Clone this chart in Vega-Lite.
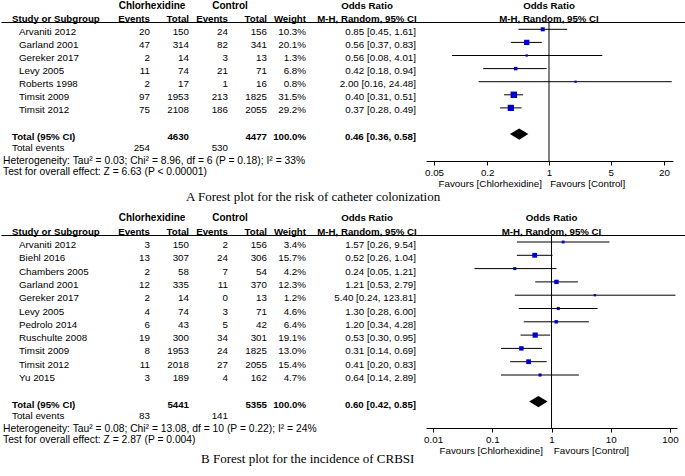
{
  "$schema": "https://vega.github.io/schema/vega-lite/v6.json",
  "padding": 0,
  "background": "white",
  "spacing": 7,
  "config": {
    "view": {"stroke": "black", "strokeWidth": 1, "strokeDash": [685, 3000]},
    "text": {"font": "Liberation Sans", "fontSize": 9.8, "color": "black", "baseline": "middle"},
    "axis": {"labelFont": "Liberation Sans", "titleFont": "Liberation Sans"}
  },
  "datasets": {
    "aRows": [
      {"kind": "study", "study": "Arvaniti 2012", "ev1": 20, "tot1": 150, "ev2": 24, "tot2": 156, "w": 0.103, "or": 0.85, "lo": 0.45, "hi": 1.61},
      {"kind": "study", "study": "Garland 2001", "ev1": 47, "tot1": 314, "ev2": 82, "tot2": 341, "w": 0.201, "or": 0.56, "lo": 0.37, "hi": 0.83},
      {"kind": "study", "study": "Gereker 2017", "ev1": 2, "tot1": 14, "ev2": 3, "tot2": 13, "w": 0.013, "or": 0.56, "lo": 0.08, "hi": 4.01},
      {"kind": "study", "study": "Levy 2005", "ev1": 11, "tot1": 74, "ev2": 21, "tot2": 71, "w": 0.068, "or": 0.42, "lo": 0.18, "hi": 0.94},
      {"kind": "study", "study": "Roberts 1998", "ev1": 2, "tot1": 17, "ev2": 1, "tot2": 16, "w": 0.008, "or": 2.00, "lo": 0.16, "hi": 24.48},
      {"kind": "study", "study": "Timsit 2009", "ev1": 97, "tot1": 1953, "ev2": 213, "tot2": 1825, "w": 0.315, "or": 0.40, "lo": 0.31, "hi": 0.51},
      {"kind": "study", "study": "Timsit 2012", "ev1": 75, "tot1": 2108, "ev2": 186, "tot2": 2055, "w": 0.292, "or": 0.37, "lo": 0.28, "hi": 0.49},
      {"kind": "total", "study": "Total (95% CI)", "tot1": 4630, "tot2": 4477, "w": 1.0, "or": 0.46, "lo": 0.36, "hi": 0.58},
      {"kind": "events", "study": "Total events", "ev1": 254, "ev2": 530}
    ],
    "bRows": [
      {"kind": "study", "study": "Arvaniti 2012", "ev1": 3, "tot1": 150, "ev2": 2, "tot2": 156, "w": 0.034, "or": 1.57, "lo": 0.26, "hi": 9.54},
      {"kind": "study", "study": "Biehl 2016", "ev1": 13, "tot1": 307, "ev2": 24, "tot2": 306, "w": 0.157, "or": 0.52, "lo": 0.26, "hi": 1.04},
      {"kind": "study", "study": "Chambers 2005", "ev1": 2, "tot1": 58, "ev2": 7, "tot2": 54, "w": 0.042, "or": 0.24, "lo": 0.05, "hi": 1.21},
      {"kind": "study", "study": "Garland 2001", "ev1": 12, "tot1": 335, "ev2": 11, "tot2": 370, "w": 0.123, "or": 1.21, "lo": 0.53, "hi": 2.79},
      {"kind": "study", "study": "Gereker 2017", "ev1": 2, "tot1": 14, "ev2": 0, "tot2": 13, "w": 0.012, "or": 5.40, "lo": 0.24, "hi": 123.81},
      {"kind": "study", "study": "Levy 2005", "ev1": 4, "tot1": 74, "ev2": 3, "tot2": 71, "w": 0.046, "or": 1.30, "lo": 0.28, "hi": 6.00},
      {"kind": "study", "study": "Pedrolo 2014", "ev1": 6, "tot1": 43, "ev2": 5, "tot2": 42, "w": 0.064, "or": 1.20, "lo": 0.34, "hi": 4.28},
      {"kind": "study", "study": "Ruschulte 2008", "ev1": 19, "tot1": 300, "ev2": 34, "tot2": 301, "w": 0.191, "or": 0.53, "lo": 0.30, "hi": 0.95},
      {"kind": "study", "study": "Timsit 2009", "ev1": 8, "tot1": 1953, "ev2": 24, "tot2": 1825, "w": 0.130, "or": 0.31, "lo": 0.14, "hi": 0.69},
      {"kind": "study", "study": "Timsit 2012", "ev1": 11, "tot1": 2018, "ev2": 27, "tot2": 2055, "w": 0.154, "or": 0.41, "lo": 0.20, "hi": 0.83},
      {"kind": "study", "study": "Yu 2015", "ev1": 3, "tot1": 189, "ev2": 4, "tot2": 162, "w": 0.047, "or": 0.64, "lo": 0.14, "hi": 2.89},
      {"kind": "total", "study": "Total (95% CI)", "tot1": 5441, "tot2": 5355, "w": 1.0, "or": 0.60, "lo": 0.42, "hi": 0.85},
      {"kind": "events", "study": "Total events", "ev1": 83, "ev2": 141}
    ],
    "hdrStudy": [{"study": "h2", "text": "Study or Subgroup"}],
    "hdrNum": [
      {"study": "h2", "key": "ev1", "text": "Events"},
      {"study": "h2", "key": "tot1", "text": "Total"},
      {"study": "h2", "key": "ev2", "text": "Events"},
      {"study": "h2", "key": "tot2", "text": "Total"},
      {"study": "h2", "key": "wtxt", "text": "Weight"}
    ],
    "hdrGroup": [
      {"study": "h1", "key": "ev1", "text": "Chlorhexidine"},
      {"study": "h1", "key": "ev2", "text": "Control"}
    ],
    "hdrCI": [
      {"study": "h1", "text": "Odds Ratio"},
      {"study": "h2", "text": "M-H, Random, 95% CI"}
    ],
    "aFoot": [{"study": "foot", "text": "Heterogeneity: Tau² = 0.03; Chi² = 8.96, df = 6 (P = 0.18); I² = 33%\nTest for overall effect: Z = 6.63 (P < 0.00001)"}],
    "bFoot": [{"study": "foot", "text": "Heterogeneity: Tau² = 0.08; Chi² = 13.08, df = 10 (P = 0.22); I² = 24%\nTest for overall effect: Z = 2.87 (P = 0.004)"}]
  },
  "vconcat": [
    {
      "width": 685,
      "height": 139,
      "title": {"text": "A Forest plot for the risk of catheter colonization", "orient": "bottom", "anchor": "start", "dx": 185, "offset": 2, "font": "Liberation Serif", "fontSize": 13, "fontWeight": "normal", "color": "black"},
      "resolve": {"scale": {"x": "independent", "y": "independent", "size": "independent"}},
      "layer": [
        {"data": {"name": "aRows"}, "transform": [{"filter": "datum.kind == 'study'"}],
         "mark": {"type": "text", "align": "left"},
         "encoding": {
           "x": {"datum": "name", "type": "nominal", "scale": {"type": "point", "domain": ["name"], "range": [18, 18], "padding": 0}, "axis": null},
           "y": {"field": "study", "type": "nominal", "scale": {"type": "point", "domain": ["h1","h2","Arvaniti 2012","Garland 2001","Gereker 2017","Levy 2005","Roberts 1998","Timsit 2009","Timsit 2012","gap","Total (95% CI)","Total events","foot"], "range": [-16.4, 140.8], "padding": 0}, "axis": null},
           "text": {"field": "study", "type": "nominal"}}},
        {"data": {"name": "aRows"}, "transform": [{"filter": "datum.kind == 'total'"}],
         "mark": {"type": "text", "align": "left", "fontWeight": "bold", "fontSize": 9.7},
         "encoding": {
           "x": {"datum": "label", "type": "nominal", "scale": {"type": "point", "domain": ["label"], "range": [11, 11], "padding": 0}, "axis": null},
           "y": {"field": "study", "type": "nominal", "scale": {"type": "point", "domain": ["h1","h2","Arvaniti 2012","Garland 2001","Gereker 2017","Levy 2005","Roberts 1998","Timsit 2009","Timsit 2012","gap","Total (95% CI)","Total events","foot"], "range": [-16.4, 140.8], "padding": 0}, "axis": null},
           "text": {"field": "study", "type": "nominal"}}},
        {"data": {"name": "aRows"}, "transform": [{"filter": "datum.kind == 'events'"}],
         "mark": {"type": "text", "align": "left"},
         "encoding": {
           "x": {"datum": "label", "type": "nominal", "scale": {"type": "point", "domain": ["label"], "range": [11, 11], "padding": 0}, "axis": null},
           "y": {"field": "study", "type": "nominal", "scale": {"type": "point", "domain": ["h1","h2","Arvaniti 2012","Garland 2001","Gereker 2017","Levy 2005","Roberts 1998","Timsit 2009","Timsit 2012","gap","Total (95% CI)","Total events","foot"], "range": [-18.4, 138.8], "padding": 0}, "axis": null},
           "text": {"field": "study", "type": "nominal"}}},
        {"data": {"name": "aRows"}, "transform": [{"filter": "datum.kind == 'study'"}, {"calculate": "format(datum.w, '.1%')", "as": "wtxt"}, {"fold": ["ev1", "tot1", "ev2", "tot2", "wtxt"]}],
         "mark": {"type": "text", "align": "right"},
         "encoding": {
           "x": {"field": "key", "type": "nominal", "scale": {"type": "point", "domain": ["ev1", "tot1", "ev2", "tot2", "wtxt"], "range": [149, 305], "padding": 0}, "axis": null},
           "y": {"field": "study", "type": "nominal", "scale": {"type": "point", "domain": ["h1","h2","Arvaniti 2012","Garland 2001","Gereker 2017","Levy 2005","Roberts 1998","Timsit 2009","Timsit 2012","gap","Total (95% CI)","Total events","foot"], "range": [-16.4, 140.8], "padding": 0}, "axis": null},
           "text": {"field": "value", "type": "nominal"}}},
        {"data": {"name": "aRows"}, "transform": [{"filter": "datum.kind == 'events'"}, {"fold": ["ev1", "ev2"]}],
         "mark": {"type": "text", "align": "right"},
         "encoding": {
           "x": {"field": "key", "type": "nominal", "scale": {"type": "point", "domain": ["ev1", "tot1", "ev2", "tot2", "wtxt"], "range": [149, 305], "padding": 0}, "axis": null},
           "y": {"field": "study", "type": "nominal", "scale": {"type": "point", "domain": ["h1","h2","Arvaniti 2012","Garland 2001","Gereker 2017","Levy 2005","Roberts 1998","Timsit 2009","Timsit 2012","gap","Total (95% CI)","Total events","foot"], "range": [-18.4, 138.8], "padding": 0}, "axis": null},
           "text": {"field": "value", "type": "nominal"}}},
        {"data": {"name": "aRows"}, "transform": [{"filter": "datum.kind == 'total'"}, {"calculate": "format(datum.w, '.1%')", "as": "wtxt"}, {"fold": ["tot1", "tot2", "wtxt"]}],
         "mark": {"type": "text", "align": "right", "fontWeight": "bold", "fontSize": 9.7},
         "encoding": {
           "x": {"field": "key", "type": "nominal", "scale": {"type": "point", "domain": ["ev1", "tot1", "ev2", "tot2", "wtxt"], "range": [149, 305], "padding": 0}, "axis": null},
           "y": {"field": "study", "type": "nominal", "scale": {"type": "point", "domain": ["h1","h2","Arvaniti 2012","Garland 2001","Gereker 2017","Levy 2005","Roberts 1998","Timsit 2009","Timsit 2012","gap","Total (95% CI)","Total events","foot"], "range": [-16.4, 140.8], "padding": 0}, "axis": null},
           "text": {"field": "value", "type": "nominal"}}},
        {"data": {"name": "aRows"}, "transform": [{"filter": "datum.kind == 'study'"}, {"calculate": "format(datum.or, '.2f') + ' [' + format(datum.lo, '.2f') + ', ' + format(datum.hi, '.2f') + ']'", "as": "ci"}],
         "mark": {"type": "text", "align": "right"},
         "encoding": {
           "x": {"datum": "ci", "type": "nominal", "scale": {"type": "point", "domain": ["ci"], "range": [415, 415], "padding": 0}, "axis": null},
           "y": {"field": "study", "type": "nominal", "scale": {"type": "point", "domain": ["h1","h2","Arvaniti 2012","Garland 2001","Gereker 2017","Levy 2005","Roberts 1998","Timsit 2009","Timsit 2012","gap","Total (95% CI)","Total events","foot"], "range": [-16.4, 140.8], "padding": 0}, "axis": null},
           "text": {"field": "ci", "type": "nominal"}}},
        {"data": {"name": "aRows"}, "transform": [{"filter": "datum.kind == 'total'"}, {"calculate": "format(datum.or, '.2f') + ' [' + format(datum.lo, '.2f') + ', ' + format(datum.hi, '.2f') + ']'", "as": "ci"}],
         "mark": {"type": "text", "align": "right", "fontWeight": "bold", "fontSize": 9.7},
         "encoding": {
           "x": {"datum": "ci", "type": "nominal", "scale": {"type": "point", "domain": ["ci"], "range": [415, 415], "padding": 0}, "axis": null},
           "y": {"field": "study", "type": "nominal", "scale": {"type": "point", "domain": ["h1","h2","Arvaniti 2012","Garland 2001","Gereker 2017","Levy 2005","Roberts 1998","Timsit 2009","Timsit 2012","gap","Total (95% CI)","Total events","foot"], "range": [-16.4, 140.8], "padding": 0}, "axis": null},
           "text": {"field": "ci", "type": "nominal"}}},
        {"data": {"name": "hdrStudy"},
         "mark": {"type": "text", "align": "left", "fontWeight": "bold", "fontSize": 9.7},
         "encoding": {
           "x": {"datum": "label", "type": "nominal", "scale": {"type": "point", "domain": ["label"], "range": [11, 11], "padding": 0}, "axis": null},
           "y": {"field": "study", "type": "nominal", "scale": {"type": "point", "domain": ["h1","h2","Arvaniti 2012","Garland 2001","Gereker 2017","Levy 2005","Roberts 1998","Timsit 2009","Timsit 2012","gap","Total (95% CI)","Total events","foot"], "range": [-16.4, 140.8], "padding": 0}, "axis": null},
           "text": {"field": "text", "type": "nominal"}}},
        {"data": {"name": "hdrNum"},
         "mark": {"type": "text", "align": "right", "fontWeight": "bold", "fontSize": 9.7},
         "encoding": {
           "x": {"field": "key", "type": "nominal", "scale": {"type": "point", "domain": ["ev1", "tot1", "ev2", "tot2", "wtxt"], "range": [149, 305], "padding": 0}, "axis": null},
           "y": {"field": "study", "type": "nominal", "scale": {"type": "point", "domain": ["h1","h2","Arvaniti 2012","Garland 2001","Gereker 2017","Levy 2005","Roberts 1998","Timsit 2009","Timsit 2012","gap","Total (95% CI)","Total events","foot"], "range": [-16.4, 140.8], "padding": 0}, "axis": null},
           "text": {"field": "text", "type": "nominal"}}},
        {"data": {"name": "hdrGroup"},
         "mark": {"type": "text", "align": "center", "fontWeight": "bold", "fontSize": 10},
         "encoding": {
           "x": {"field": "key", "type": "nominal", "scale": {"type": "point", "domain": ["ev1", "tot1", "ev2", "tot2", "wtxt"], "range": [151, 307], "padding": 0}, "axis": null},
           "y": {"field": "study", "type": "nominal", "scale": {"type": "point", "domain": ["h1","h2","Arvaniti 2012","Garland 2001","Gereker 2017","Levy 2005","Roberts 1998","Timsit 2009","Timsit 2012","gap","Total (95% CI)","Total events","foot"], "range": [-16.4, 140.8], "padding": 0}, "axis": null},
           "text": {"field": "text", "type": "nominal"}}},
        {"data": {"name": "hdrCI"},
         "mark": {"type": "text", "align": "center", "fontWeight": "bold", "fontSize": 9.7},
         "encoding": {
           "x": {"datum": "ci", "type": "nominal", "scale": {"type": "point", "domain": ["ci"], "range": [366, 366], "padding": 0}, "axis": null},
           "y": {"field": "study", "type": "nominal", "scale": {"type": "point", "domain": ["h1","h2","Arvaniti 2012","Garland 2001","Gereker 2017","Levy 2005","Roberts 1998","Timsit 2009","Timsit 2012","gap","Total (95% CI)","Total events","foot"], "range": [-16.4, 140.8], "padding": 0}, "axis": null},
           "text": {"field": "text", "type": "nominal"}}},
        {"data": {"name": "aFoot"},
         "mark": {"type": "text", "align": "left", "lineBreak": "\n", "lineHeight": 11, "fontSize": 10.3},
         "encoding": {
           "x": {"datum": "foot", "type": "nominal", "scale": {"type": "point", "domain": ["foot"], "range": [2, 2], "padding": 0}, "axis": null},
           "y": {"field": "study", "type": "nominal", "scale": {"type": "point", "domain": ["h1","h2","Arvaniti 2012","Garland 2001","Gereker 2017","Levy 2005","Roberts 1998","Timsit 2009","Timsit 2012","gap","Total (95% CI)","Total events","foot"], "range": [-18.4, 138.8], "padding": 0}, "axis": null},
           "text": {"field": "text", "type": "nominal"}}},
        {"data": {"values": [{}]},
         "mark": {"type": "rule", "color": "black", "strokeWidth": 1},
         "encoding": {
           "x": {"datum": 1, "type": "quantitative", "scale": {"type": "log", "domain": [0.0406, 25.3], "range": [425, 672], "nice": false},
                 "axis": {"orient": "bottom", "values": [0.05, 0.2, 1, 5, 20], "format": "~g", "tickSize": 4, "tickColor": "black", "domainColor": "black", "labelColor": "black", "labelFontSize": 9.8, "labelPadding": 2, "labelFlush": false, "labelOverlap": false, "grid": false,
                          "title": "Favours [Chlorhexidine]\u00a0\u00a0\u00a0Favours [Control]", "titleFontSize": 9.8, "titleFontWeight": "normal", "titleColor": "black", "titleAlign": "left", "titleX": 437, "titlePadding": 2}}}},
        {"data": {"name": "aRows"}, "transform": [{"filter": "datum.kind == 'study'"}],
         "mark": {"type": "rule", "color": "black", "strokeWidth": 1},
         "encoding": {
           "x": {"field": "lo", "type": "quantitative", "scale": {"type": "log", "domain": [0.0406, 25.3], "range": [425, 672], "nice": false}, "axis": null},
           "x2": {"field": "hi"},
           "y": {"field": "study", "type": "nominal", "scale": {"type": "point", "domain": ["h1","h2","Arvaniti 2012","Garland 2001","Gereker 2017","Levy 2005","Roberts 1998","Timsit 2009","Timsit 2012","gap","Total (95% CI)","Total events","foot"], "range": [-18.9, 138.3], "padding": 0}, "axis": null}}},
        {"data": {"name": "aRows"}, "transform": [{"filter": "datum.kind == 'study'"}],
         "mark": {"type": "point", "shape": "square", "filled": true, "color": "#0000cd", "opacity": 1, "strokeWidth": 0},
         "encoding": {
           "x": {"field": "or", "type": "quantitative", "scale": {"type": "log", "domain": [0.0406, 25.3], "range": [425, 672], "nice": false}, "axis": null},
           "y": {"field": "study", "type": "nominal", "scale": {"type": "point", "domain": ["h1","h2","Arvaniti 2012","Garland 2001","Gereker 2017","Levy 2005","Roberts 1998","Timsit 2009","Timsit 2012","gap","Total (95% CI)","Total events","foot"], "range": [-18.9, 138.3], "padding": 0}, "axis": null},
           "size": {"field": "w", "type": "quantitative", "scale": {"domain": [0, 0.315], "range": [4, 42]}, "legend": null}}},
        {"data": {"name": "aRows"}, "transform": [{"filter": "datum.kind == 'total'"}],
         "mark": {"type": "point", "shape": "M-1,0L0,-0.62L1,0L0,0.62Z", "size": 340, "filled": true, "color": "black", "opacity": 1, "strokeWidth": 0},
         "encoding": {
           "x": {"field": "or", "type": "quantitative", "scale": {"type": "log", "domain": [0.0406, 25.3], "range": [425, 672], "nice": false}, "axis": null},
           "y": {"field": "study", "type": "nominal", "scale": {"type": "point", "domain": ["h1","h2","Arvaniti 2012","Garland 2001","Gereker 2017","Levy 2005","Roberts 1998","Timsit 2009","Timsit 2012","gap","Total (95% CI)","Total events","foot"], "range": [-18.9, 138.3], "padding": 0}, "axis": null}}},
        {"data": {"name": "hdrCI"},
         "mark": {"type": "text", "align": "center", "fontWeight": "bold", "fontSize": 9.7},
         "encoding": {
           "x": {"datum": 1, "type": "quantitative", "scale": {"type": "log", "domain": [0.0406, 25.3], "range": [425, 672], "nice": false}, "axis": null},
           "y": {"field": "study", "type": "nominal", "scale": {"type": "point", "domain": ["h1","h2","Arvaniti 2012","Garland 2001","Gereker 2017","Levy 2005","Roberts 1998","Timsit 2009","Timsit 2012","gap","Total (95% CI)","Total events","foot"], "range": [-16.4, 140.8], "padding": 0}, "axis": null},
           "text": {"field": "text", "type": "nominal"}}}
      ]
    },
    {
      "width": 685,
      "height": 193,
      "title": {"text": "B Forest plot for the incidence of CRBSI", "orient": "bottom", "anchor": "start", "dx": 200, "offset": -3, "font": "Liberation Serif", "fontSize": 13, "fontWeight": "normal", "color": "black"},
      "resolve": {"scale": {"x": "independent", "y": "independent", "size": "independent"}},
      "layer": [
        {"data": {"name": "bRows"}, "transform": [{"filter": "datum.kind == 'study'"}],
         "mark": {"type": "text", "align": "left"},
         "encoding": {
           "x": {"datum": "name", "type": "nominal", "scale": {"type": "point", "domain": ["name"], "range": [18, 18], "padding": 0}, "axis": null},
           "y": {"field": "study", "type": "nominal", "scale": {"type": "point", "domain": ["h1","h2","Arvaniti 2012","Biehl 2016","Chambers 2005","Garland 2001","Gereker 2017","Levy 2005","Pedrolo 2014","Ruschulte 2008","Timsit 2009","Timsit 2012","Yu 2015","gap","Total (95% CI)","Total events","foot"], "range": [-16.6, 196.2], "padding": 0}, "axis": null},
           "text": {"field": "study", "type": "nominal"}}},
        {"data": {"name": "bRows"}, "transform": [{"filter": "datum.kind == 'total'"}],
         "mark": {"type": "text", "align": "left", "fontWeight": "bold", "fontSize": 9.7},
         "encoding": {
           "x": {"datum": "label", "type": "nominal", "scale": {"type": "point", "domain": ["label"], "range": [11, 11], "padding": 0}, "axis": null},
           "y": {"field": "study", "type": "nominal", "scale": {"type": "point", "domain": ["h1","h2","Arvaniti 2012","Biehl 2016","Chambers 2005","Garland 2001","Gereker 2017","Levy 2005","Pedrolo 2014","Ruschulte 2008","Timsit 2009","Timsit 2012","Yu 2015","gap","Total (95% CI)","Total events","foot"], "range": [-16.6, 196.2], "padding": 0}, "axis": null},
           "text": {"field": "study", "type": "nominal"}}},
        {"data": {"name": "bRows"}, "transform": [{"filter": "datum.kind == 'events'"}],
         "mark": {"type": "text", "align": "left"},
         "encoding": {
           "x": {"datum": "label", "type": "nominal", "scale": {"type": "point", "domain": ["label"], "range": [11, 11], "padding": 0}, "axis": null},
           "y": {"field": "study", "type": "nominal", "scale": {"type": "point", "domain": ["h1","h2","Arvaniti 2012","Biehl 2016","Chambers 2005","Garland 2001","Gereker 2017","Levy 2005","Pedrolo 2014","Ruschulte 2008","Timsit 2009","Timsit 2012","Yu 2015","gap","Total (95% CI)","Total events","foot"], "range": [-18.6, 194.2], "padding": 0}, "axis": null},
           "text": {"field": "study", "type": "nominal"}}},
        {"data": {"name": "bRows"}, "transform": [{"filter": "datum.kind == 'study'"}, {"calculate": "format(datum.w, '.1%')", "as": "wtxt"}, {"fold": ["ev1", "tot1", "ev2", "tot2", "wtxt"]}],
         "mark": {"type": "text", "align": "right"},
         "encoding": {
           "x": {"field": "key", "type": "nominal", "scale": {"type": "point", "domain": ["ev1", "tot1", "ev2", "tot2", "wtxt"], "range": [149, 305], "padding": 0}, "axis": null},
           "y": {"field": "study", "type": "nominal", "scale": {"type": "point", "domain": ["h1","h2","Arvaniti 2012","Biehl 2016","Chambers 2005","Garland 2001","Gereker 2017","Levy 2005","Pedrolo 2014","Ruschulte 2008","Timsit 2009","Timsit 2012","Yu 2015","gap","Total (95% CI)","Total events","foot"], "range": [-16.6, 196.2], "padding": 0}, "axis": null},
           "text": {"field": "value", "type": "nominal"}}},
        {"data": {"name": "bRows"}, "transform": [{"filter": "datum.kind == 'events'"}, {"fold": ["ev1", "ev2"]}],
         "mark": {"type": "text", "align": "right"},
         "encoding": {
           "x": {"field": "key", "type": "nominal", "scale": {"type": "point", "domain": ["ev1", "tot1", "ev2", "tot2", "wtxt"], "range": [149, 305], "padding": 0}, "axis": null},
           "y": {"field": "study", "type": "nominal", "scale": {"type": "point", "domain": ["h1","h2","Arvaniti 2012","Biehl 2016","Chambers 2005","Garland 2001","Gereker 2017","Levy 2005","Pedrolo 2014","Ruschulte 2008","Timsit 2009","Timsit 2012","Yu 2015","gap","Total (95% CI)","Total events","foot"], "range": [-18.6, 194.2], "padding": 0}, "axis": null},
           "text": {"field": "value", "type": "nominal"}}},
        {"data": {"name": "bRows"}, "transform": [{"filter": "datum.kind == 'total'"}, {"calculate": "format(datum.w, '.1%')", "as": "wtxt"}, {"fold": ["tot1", "tot2", "wtxt"]}],
         "mark": {"type": "text", "align": "right", "fontWeight": "bold", "fontSize": 9.7},
         "encoding": {
           "x": {"field": "key", "type": "nominal", "scale": {"type": "point", "domain": ["ev1", "tot1", "ev2", "tot2", "wtxt"], "range": [149, 305], "padding": 0}, "axis": null},
           "y": {"field": "study", "type": "nominal", "scale": {"type": "point", "domain": ["h1","h2","Arvaniti 2012","Biehl 2016","Chambers 2005","Garland 2001","Gereker 2017","Levy 2005","Pedrolo 2014","Ruschulte 2008","Timsit 2009","Timsit 2012","Yu 2015","gap","Total (95% CI)","Total events","foot"], "range": [-16.6, 196.2], "padding": 0}, "axis": null},
           "text": {"field": "value", "type": "nominal"}}},
        {"data": {"name": "bRows"}, "transform": [{"filter": "datum.kind == 'study'"}, {"calculate": "format(datum.or, '.2f') + ' [' + format(datum.lo, '.2f') + ', ' + format(datum.hi, '.2f') + ']'", "as": "ci"}],
         "mark": {"type": "text", "align": "right"},
         "encoding": {
           "x": {"datum": "ci", "type": "nominal", "scale": {"type": "point", "domain": ["ci"], "range": [415, 415], "padding": 0}, "axis": null},
           "y": {"field": "study", "type": "nominal", "scale": {"type": "point", "domain": ["h1","h2","Arvaniti 2012","Biehl 2016","Chambers 2005","Garland 2001","Gereker 2017","Levy 2005","Pedrolo 2014","Ruschulte 2008","Timsit 2009","Timsit 2012","Yu 2015","gap","Total (95% CI)","Total events","foot"], "range": [-16.6, 196.2], "padding": 0}, "axis": null},
           "text": {"field": "ci", "type": "nominal"}}},
        {"data": {"name": "bRows"}, "transform": [{"filter": "datum.kind == 'total'"}, {"calculate": "format(datum.or, '.2f') + ' [' + format(datum.lo, '.2f') + ', ' + format(datum.hi, '.2f') + ']'", "as": "ci"}],
         "mark": {"type": "text", "align": "right", "fontWeight": "bold", "fontSize": 9.7},
         "encoding": {
           "x": {"datum": "ci", "type": "nominal", "scale": {"type": "point", "domain": ["ci"], "range": [415, 415], "padding": 0}, "axis": null},
           "y": {"field": "study", "type": "nominal", "scale": {"type": "point", "domain": ["h1","h2","Arvaniti 2012","Biehl 2016","Chambers 2005","Garland 2001","Gereker 2017","Levy 2005","Pedrolo 2014","Ruschulte 2008","Timsit 2009","Timsit 2012","Yu 2015","gap","Total (95% CI)","Total events","foot"], "range": [-16.6, 196.2], "padding": 0}, "axis": null},
           "text": {"field": "ci", "type": "nominal"}}},
        {"data": {"name": "hdrStudy"},
         "mark": {"type": "text", "align": "left", "fontWeight": "bold", "fontSize": 9.7},
         "encoding": {
           "x": {"datum": "label", "type": "nominal", "scale": {"type": "point", "domain": ["label"], "range": [11, 11], "padding": 0}, "axis": null},
           "y": {"field": "study", "type": "nominal", "scale": {"type": "point", "domain": ["h1","h2","Arvaniti 2012","Biehl 2016","Chambers 2005","Garland 2001","Gereker 2017","Levy 2005","Pedrolo 2014","Ruschulte 2008","Timsit 2009","Timsit 2012","Yu 2015","gap","Total (95% CI)","Total events","foot"], "range": [-16.6, 196.2], "padding": 0}, "axis": null},
           "text": {"field": "text", "type": "nominal"}}},
        {"data": {"name": "hdrNum"},
         "mark": {"type": "text", "align": "right", "fontWeight": "bold", "fontSize": 9.7},
         "encoding": {
           "x": {"field": "key", "type": "nominal", "scale": {"type": "point", "domain": ["ev1", "tot1", "ev2", "tot2", "wtxt"], "range": [149, 305], "padding": 0}, "axis": null},
           "y": {"field": "study", "type": "nominal", "scale": {"type": "point", "domain": ["h1","h2","Arvaniti 2012","Biehl 2016","Chambers 2005","Garland 2001","Gereker 2017","Levy 2005","Pedrolo 2014","Ruschulte 2008","Timsit 2009","Timsit 2012","Yu 2015","gap","Total (95% CI)","Total events","foot"], "range": [-16.6, 196.2], "padding": 0}, "axis": null},
           "text": {"field": "text", "type": "nominal"}}},
        {"data": {"name": "hdrGroup"},
         "mark": {"type": "text", "align": "center", "fontWeight": "bold", "fontSize": 10},
         "encoding": {
           "x": {"field": "key", "type": "nominal", "scale": {"type": "point", "domain": ["ev1", "tot1", "ev2", "tot2", "wtxt"], "range": [151, 307], "padding": 0}, "axis": null},
           "y": {"field": "study", "type": "nominal", "scale": {"type": "point", "domain": ["h1","h2","Arvaniti 2012","Biehl 2016","Chambers 2005","Garland 2001","Gereker 2017","Levy 2005","Pedrolo 2014","Ruschulte 2008","Timsit 2009","Timsit 2012","Yu 2015","gap","Total (95% CI)","Total events","foot"], "range": [-16.6, 196.2], "padding": 0}, "axis": null},
           "text": {"field": "text", "type": "nominal"}}},
        {"data": {"name": "hdrCI"},
         "mark": {"type": "text", "align": "center", "fontWeight": "bold", "fontSize": 9.7},
         "encoding": {
           "x": {"datum": "ci", "type": "nominal", "scale": {"type": "point", "domain": ["ci"], "range": [366, 366], "padding": 0}, "axis": null},
           "y": {"field": "study", "type": "nominal", "scale": {"type": "point", "domain": ["h1","h2","Arvaniti 2012","Biehl 2016","Chambers 2005","Garland 2001","Gereker 2017","Levy 2005","Pedrolo 2014","Ruschulte 2008","Timsit 2009","Timsit 2012","Yu 2015","gap","Total (95% CI)","Total events","foot"], "range": [-16.6, 196.2], "padding": 0}, "axis": null},
           "text": {"field": "text", "type": "nominal"}}},
        {"data": {"name": "bFoot"},
         "mark": {"type": "text", "align": "left", "lineBreak": "\n", "lineHeight": 11, "fontSize": 10.3},
         "encoding": {
           "x": {"datum": "foot", "type": "nominal", "scale": {"type": "point", "domain": ["foot"], "range": [2, 2], "padding": 0}, "axis": null},
           "y": {"field": "study", "type": "nominal", "scale": {"type": "point", "domain": ["h1","h2","Arvaniti 2012","Biehl 2016","Chambers 2005","Garland 2001","Gereker 2017","Levy 2005","Pedrolo 2014","Ruschulte 2008","Timsit 2009","Timsit 2012","Yu 2015","gap","Total (95% CI)","Total events","foot"], "range": [-18.6, 194.2], "padding": 0}, "axis": null},
           "text": {"field": "text", "type": "nominal"}}},
        {"data": {"values": [{}]},
         "mark": {"type": "rule", "color": "black", "strokeWidth": 1},
         "encoding": {
           "x": {"datum": 1, "type": "quantitative", "scale": {"type": "log", "domain": [0.0076, 131.4], "range": [425, 676], "nice": false},
                 "axis": {"orient": "bottom", "values": [0.01, 0.1, 1, 10, 100], "format": "~g", "tickSize": 4, "tickColor": "black", "domainColor": "black", "labelColor": "black", "labelFontSize": 9.8, "labelPadding": 2, "labelFlush": false, "labelOverlap": false, "grid": false,
                          "title": "Favours [Chlorhexidine]\u00a0\u00a0\u00a0\u00a0Favours [Control]", "titleFontSize": 9.8, "titleFontWeight": "normal", "titleColor": "black", "titleAlign": "left", "titleX": 438, "titlePadding": 2}}}},
        {"data": {"name": "bRows"}, "transform": [{"filter": "datum.kind == 'study'"}],
         "mark": {"type": "rule", "color": "black", "strokeWidth": 1},
         "encoding": {
           "x": {"field": "lo", "type": "quantitative", "scale": {"type": "log", "domain": [0.0076, 131.4], "range": [425, 676], "nice": false}, "axis": null},
           "x2": {"field": "hi"},
           "y": {"field": "study", "type": "nominal", "scale": {"type": "point", "domain": ["h1","h2","Arvaniti 2012","Biehl 2016","Chambers 2005","Garland 2001","Gereker 2017","Levy 2005","Pedrolo 2014","Ruschulte 2008","Timsit 2009","Timsit 2012","Yu 2015","gap","Total (95% CI)","Total events","foot"], "range": [-19.6, 193.2], "padding": 0}, "axis": null}}},
        {"data": {"name": "bRows"}, "transform": [{"filter": "datum.kind == 'study'"}],
         "mark": {"type": "point", "shape": "square", "filled": true, "color": "#0000cd", "opacity": 1, "strokeWidth": 0},
         "encoding": {
           "x": {"field": "or", "type": "quantitative", "scale": {"type": "log", "domain": [0.0076, 131.4], "range": [425, 676], "nice": false}, "axis": null},
           "y": {"field": "study", "type": "nominal", "scale": {"type": "point", "domain": ["h1","h2","Arvaniti 2012","Biehl 2016","Chambers 2005","Garland 2001","Gereker 2017","Levy 2005","Pedrolo 2014","Ruschulte 2008","Timsit 2009","Timsit 2012","Yu 2015","gap","Total (95% CI)","Total events","foot"], "range": [-19.6, 193.2], "padding": 0}, "axis": null},
           "size": {"field": "w", "type": "quantitative", "scale": {"domain": [0, 0.315], "range": [4, 42]}, "legend": null}}},
        {"data": {"name": "bRows"}, "transform": [{"filter": "datum.kind == 'total'"}],
         "mark": {"type": "point", "shape": "M-1,0L0,-0.62L1,0L0,0.62Z", "size": 340, "filled": true, "color": "black", "opacity": 1, "strokeWidth": 0},
         "encoding": {
           "x": {"field": "or", "type": "quantitative", "scale": {"type": "log", "domain": [0.0076, 131.4], "range": [425, 676], "nice": false}, "axis": null},
           "y": {"field": "study", "type": "nominal", "scale": {"type": "point", "domain": ["h1","h2","Arvaniti 2012","Biehl 2016","Chambers 2005","Garland 2001","Gereker 2017","Levy 2005","Pedrolo 2014","Ruschulte 2008","Timsit 2009","Timsit 2012","Yu 2015","gap","Total (95% CI)","Total events","foot"], "range": [-19.6, 193.2], "padding": 0}, "axis": null}}},
        {"data": {"name": "hdrCI"},
         "mark": {"type": "text", "align": "center", "fontWeight": "bold", "fontSize": 9.7},
         "encoding": {
           "x": {"datum": 1, "type": "quantitative", "scale": {"type": "log", "domain": [0.0076, 131.4], "range": [425, 676], "nice": false}, "axis": null},
           "y": {"field": "study", "type": "nominal", "scale": {"type": "point", "domain": ["h1","h2","Arvaniti 2012","Biehl 2016","Chambers 2005","Garland 2001","Gereker 2017","Levy 2005","Pedrolo 2014","Ruschulte 2008","Timsit 2009","Timsit 2012","Yu 2015","gap","Total (95% CI)","Total events","foot"], "range": [-16.6, 196.2], "padding": 0}, "axis": null},
           "text": {"field": "text", "type": "nominal"}}}
      ]
    }
  ]
}
